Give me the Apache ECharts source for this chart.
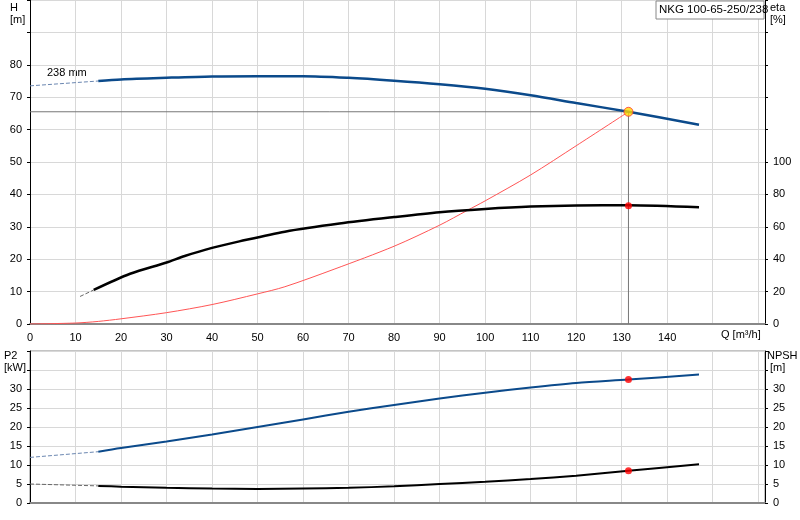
<!DOCTYPE html>
<html><head><meta charset="utf-8">
<script src="https://cdn.jsdelivr.net/npm/echarts@6/dist/echarts.min.js"></script>
<style>html,body{margin:0;padding:0;background:#fff}#c{width:800px;height:520px}</style>
</head><body><div id="c"></div>
<script>
const qHead=[15,20,30,40,50,60,70,80,90,100,110,120,131.5,147];
const head=[75,75.5,76,76.4,76.5,76.5,76,75.1,74,72.6,70.6,68.2,65.5,61.5];
const headExtQ=[0,15], headExt=[73.5,75];
const qEta=[14,22,30,34,40,46,56,68,80,90,100,110,120,131.5,147];
const eta=[21,31,38,42,47,51,57,62,66,69,71,72.5,73.2,73.3,72];
const etaExtQ=[11,14], etaExt=[17,21];
const qSys=[0,10,15,20,30,40,50,56,67,80,90,96,100,110,120,131.5];
const sys=[0,0.3,0.8,1.6,3.5,6,9.3,11.5,17,24,30.5,35,38,46,55,65.5];
const qLow=[15,20,30,40,50,60,70,80,90,100,110,120,131.5,147];
const p2=[13.5,14.5,16.2,18,20,22,24,25.8,27.5,29,30.4,31.6,32.5,33.8];
const npsh=[4.5,4.3,4,3.8,3.7,3.8,4,4.4,5,5.6,6.3,7.2,8.5,10.2];
const lowExtQ=[0,15], p2Ext=[12,13.5], npshExt=[5,4.5];
const dutyQ=131.5, dutyH=65.5, dutyEta=73, dutyP2=32.5, dutyNpsh=8.5;
const z=(a,b)=>a.map((v,i)=>[v,b[i]]);
const ch=echarts.init(document.getElementById('c'));
const gl={lineStyle:{color:'#d8d8d8',width:1}};
const lbl={color:'#000',fontSize:11,fontFamily:'Liberation Sans'};
const SM=0.3;
ch.setOption({
 animation:false,
 grid:[{left:30,right:35,top:0,bottom:196},{left:30,right:35,top:351,bottom:17}],
 xAxis:[
  {gridIndex:0,type:'value',min:0,max:161.5,interval:10,axisLine:{lineStyle:{color:'#888',width:2}},axisTick:{show:false},splitLine:gl,
   axisLabel:Object.assign({formatter:v=>v>=150?'':v,showMaxLabel:false},lbl)},
  {gridIndex:1,type:'value',min:0,max:161.5,interval:10,axisLine:{lineStyle:{color:'#888',width:2}},axisTick:{show:false},splitLine:gl,axisLabel:{show:false}}
 ],
 yAxis:[
  {gridIndex:0,type:'value',min:0,max:100,interval:10,axisLine:{show:true,lineStyle:{color:'#000'}},axisTick:{show:true,length:3},splitLine:gl,axisLabel:Object.assign({formatter:v=>v>80?'':v},lbl)},
  {gridIndex:0,type:'value',position:'right',min:0,max:200,interval:20,axisLine:{show:true,lineStyle:{color:'#000'}},axisTick:{show:true,length:3},splitLine:{show:false},axisLabel:Object.assign({formatter:v=>v>100?'':v},lbl)},
  {gridIndex:1,type:'value',min:0,max:40,interval:5,axisLine:{show:true,lineStyle:{color:'#000'}},axisTick:{show:true,length:3},splitLine:gl,axisLabel:Object.assign({formatter:v=>v>30?'':v},lbl)},
  {gridIndex:1,type:'value',position:'right',min:0,max:40,interval:5,axisLine:{show:true,lineStyle:{color:'#000'}},axisTick:{show:true,length:3},splitLine:{show:false},axisLabel:Object.assign({formatter:v=>v>30?'':v},lbl)}
 ],
 series:[
  {type:'line',data:[[0,dutyH],[dutyQ,dutyH],[dutyQ,0]],symbol:'none',lineStyle:{color:'#777',width:1},z:1},
  {type:'line',data:z(qSys,sys),smooth:SM,symbol:'none',lineStyle:{color:'#f55',width:1}},
  {type:'line',data:z(headExtQ,headExt),symbol:'none',lineStyle:{color:'#6a86b0',width:1,type:'dashed'}},
  {type:'line',data:z(qHead,head),smooth:SM,symbol:'none',lineStyle:{color:'#0b4a8b',width:2.5}},
  {type:'line',yAxisIndex:1,data:z(etaExtQ,etaExt),symbol:'none',lineStyle:{color:'#666',width:1,type:'dashed'}},
  {type:'line',yAxisIndex:1,data:z(qEta,eta),smooth:SM,symbol:'none',lineStyle:{color:'#000',width:2.5}},
  {type:'scatter',data:[[dutyQ,dutyH]],symbolSize:9,itemStyle:{color:'#ffd700',borderColor:'#f33',borderWidth:1},z:5},
  {type:'scatter',yAxisIndex:1,data:[[dutyQ,dutyEta]],symbolSize:7,itemStyle:{color:'#f00'},z:5},
  {type:'line',xAxisIndex:1,yAxisIndex:2,data:z(lowExtQ,p2Ext),symbol:'none',lineStyle:{color:'#6a86b0',width:1,type:'dashed'}},
  {type:'line',xAxisIndex:1,yAxisIndex:2,data:z(qLow,p2),smooth:SM,symbol:'none',lineStyle:{color:'#0b4a8b',width:2}},
  {type:'line',xAxisIndex:1,yAxisIndex:3,data:z(lowExtQ,npshExt),symbol:'none',lineStyle:{color:'#666',width:1,type:'dashed'}},
  {type:'line',xAxisIndex:1,yAxisIndex:3,data:z(qLow,npsh),smooth:SM,symbol:'none',lineStyle:{color:'#000',width:2}},
  {type:'scatter',xAxisIndex:1,yAxisIndex:2,data:[[dutyQ,dutyP2]],symbolSize:7,itemStyle:{color:'#f00'},z:5},
  {type:'scatter',xAxisIndex:1,yAxisIndex:3,data:[[dutyQ,dutyNpsh]],symbolSize:7,itemStyle:{color:'#f00'},z:5}
 ],
 graphic:[
  {type:'rect',shape:{x:30,y:351,width:735,height:152},style:{fill:'none',stroke:'#888',lineWidth:1},silent:true},
  {type:'text',left:10,top:2,style:{text:'H\n[m]',fill:'#000',font:'11px Liberation Sans',align:'center',lineHeight:12}},
  {type:'text',left:770,top:2,style:{text:'eta\n[%]',fill:'#000',font:'11px Liberation Sans',lineHeight:12}},
  {type:'text',left:4,top:350,style:{text:'P2\n[kW]',fill:'#000',font:'11px Liberation Sans',lineHeight:12}},
  {type:'text',left:767,top:350,style:{text:'NPSH\n [m]',fill:'#000',font:'11px Liberation Sans',lineHeight:12}},
  {type:'text',left:721,top:329,style:{text:'Q [m³/h]',fill:'#000',font:'11px Liberation Sans'}},
  {type:'text',left:47,top:67,style:{text:'238 mm',fill:'#000',font:'11px Liberation Sans'}},
  {type:'rect',shape:{x:656,y:1,width:108,height:18},style:{fill:'#fff',stroke:'#888',lineWidth:1},z:10},
  {type:'text',left:659,top:4,z:11,style:{text:'NKG 100-65-250/238',fill:'#000',font:'11.5px Liberation Sans'}}
 ]
});
</script></body></html>
